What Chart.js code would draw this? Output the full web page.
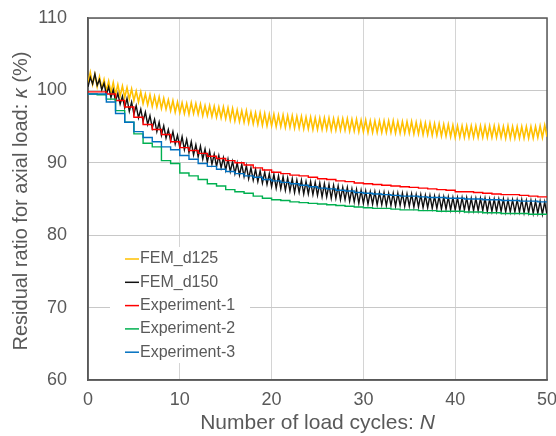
<!DOCTYPE html>
<html>
<head>
<meta charset="utf-8">
<script src="https://cdn.jsdelivr.net/npm/chart.js@4.4.1/dist/chart.umd.min.js"></script>
<style>
  html, body { margin: 0; padding: 0; background: #fff; }
  #wrap { width: 556px; height: 436px; }
</style>
</head>
<body>
<div id="wrap"><canvas id="residualChart" width="556" height="436"></canvas></div>
<script>
// x ticks / y ticks
const xTicks = [0, 10, 20, 30, 40, 50];
const yTicks = [60, 70, 80, 90, 100, 110];

const seriesNames = ['FEM_d125', 'FEM_d150', 'Experiment-1', 'Experiment-2', 'Experiment-3'];
const seriesColors = ['#FFC000', '#111111', '#FF0000', '#00B050', '#0070C0'];

// FEM results, one value every quarter cycle (N = 0, 0.25, 0.5 ...)
const femStep = 0.25;
const femD125 = [
  101.0, 102.5, 100.8, 102.2,  100.5, 101.9, 100.2, 101.5,  99.9, 101.3, 99.7, 101.1,
  99.4, 100.8, 99.2, 100.6,  99.0, 100.4, 98.8, 100.2,  98.6, 99.9, 98.4, 99.8,
  98.2, 99.5, 98.0, 99.4,  97.8, 99.2, 97.7, 99.1,  97.5, 98.9, 97.4, 98.7,
  97.2, 98.6, 97.0, 98.4,  96.9, 98.3, 96.8, 98.2,  96.7, 98.3, 96.8, 98.2,
  96.7, 98.1, 96.5, 97.9,  96.5, 97.9, 96.4, 97.8,  96.3, 97.7, 96.2, 97.7,
  96.1, 97.6, 95.9, 97.5,  95.8, 97.3, 95.7, 97.2,  95.6, 97.2, 95.5, 97.0,
  95.4, 96.9, 95.3, 96.9,  95.2, 96.8, 95.1, 96.7,  95.1, 96.7, 95.0, 96.6,
  95.0, 96.6, 94.9, 96.5,  94.9, 96.5, 94.8, 96.4,  94.8, 96.4, 94.7, 96.3,
  94.7, 96.3, 94.6, 96.2,  94.6, 96.2, 94.6, 96.2,  94.6, 96.2, 94.5, 96.1,
  94.5, 96.1, 94.5, 96.1,  94.5, 96.1, 94.4, 96.0,  94.4, 96.0, 94.3, 95.9,
  94.3, 95.9, 94.2, 95.8,  94.2, 95.8, 94.2, 95.8,  94.2, 95.8, 94.2, 95.8,
  94.2, 95.8, 94.1, 95.7,  94.1, 95.7, 94.1, 95.7,  94.1, 95.7, 94.0, 95.6,
  94.0, 95.6, 93.9, 95.5,  93.9, 95.5, 93.8, 95.4,  93.8, 95.4, 93.7, 95.3,
  93.7, 95.3, 93.6, 95.2,  93.5, 95.1, 93.5, 95.1,  93.5, 95.1, 93.5, 95.1,
  93.5, 95.1, 93.5, 95.1,  93.5, 95.1, 93.5, 95.1,  93.5, 95.1, 93.5, 95.1,
  93.5, 95.0, 93.4, 95.1,  93.4, 95.0, 93.4, 95.0,  93.4, 95.0, 93.4, 95.0,
  93.4, 95.0, 93.4, 95.0,  93.5, 95.1, 93.5, 95.2,  93.6
];
const femD150 = [
  100.5, 101.8, 100.9, 102.3,  100.7, 101.5, 100.1, 101.0,  99.4, 100.5, 99.0, 100.1,
  98.5, 99.6, 98.1, 99.2,  97.6, 98.9, 97.1, 98.4,  96.7, 97.9, 96.2, 97.4,
  95.7, 97.0, 95.3, 96.5,  94.8, 96.0, 94.3, 95.6,  93.8, 95.1, 93.4, 94.6,
  93.0, 94.3, 92.6, 93.8,  92.1, 93.6, 91.8, 93.2,  91.4, 92.9, 91.1, 92.5,
  90.8, 92.3, 90.5, 91.9,  90.1, 91.6, 89.8, 91.2,  89.5, 91.0, 89.3, 90.7,
  89.0, 90.5, 88.8, 90.2,  88.5, 90.0, 88.3, 89.8,  88.1, 89.6, 87.8, 89.3,
  87.6, 89.1, 87.4, 88.9,  87.2, 88.7, 87.0, 88.5,  86.7, 88.4, 86.5, 88.2,
  86.4, 88.1, 86.2, 87.9,  86.1, 87.8, 85.9, 87.6,  85.9, 87.6, 85.7, 87.4,
  85.7, 87.4, 85.6, 87.3,  85.5, 87.2, 85.3, 87.1,  85.3, 87.0, 85.1, 86.9,
  85.1, 86.8, 84.9, 86.6,  84.9, 86.6, 84.7, 86.4,  84.6, 86.3, 84.4, 86.2,
  84.4, 86.1, 84.3, 86.0,  84.3, 86.0, 84.2, 85.9,  84.2, 85.9, 84.1, 85.8,
  84.1, 85.8, 84.0, 85.8,  84.1, 85.8, 84.0, 85.7,  84.0, 85.7, 83.9, 85.6,
  83.9, 85.6, 83.8, 85.5,  83.8, 85.5, 83.7, 85.4,  83.7, 85.4, 83.6, 85.3,
  83.6, 85.3, 83.5, 85.2,  83.5, 85.2, 83.4, 85.2,  83.5, 85.2, 83.4, 85.1,
  83.4, 85.1, 83.4, 85.1,  83.4, 85.1, 83.3, 85.0,  83.3, 85.0, 83.3, 85.0,
  83.3, 85.0, 83.2, 84.9,  83.2, 84.9, 83.2, 84.9,  83.2, 84.9, 83.1, 84.8,
  83.1, 84.8, 83.0, 84.7,  83.0, 84.7, 82.9, 84.6,  82.8
];

// Experiments, one value per load cycle N = 0 ... 50
const experiment1 = [
  99.8, 99.8, 99.5, 98.6, 97.7, 96.3, 95.3, 94.6, 93.9, 92.9,
  92.1, 91.7, 91.3, 90.9, 90.6, 90.3, 90.0, 89.7, 89.3, 89.0,
  88.7, 88.5, 88.3, 88.2, 88.0, 87.8, 87.7, 87.5, 87.4, 87.2,
  87.1, 87.0, 86.9, 86.8, 86.7, 86.6, 86.5, 86.4, 86.3, 86.2,
  86.0, 86.0, 85.9, 85.8, 85.7, 85.6, 85.6, 85.5, 85.4, 85.3, 85.2
];
const experiment2 = [
  99.5, 99.4, 98.8, 97.2, 95.6, 94.0, 92.7, 92.2, 90.3, 89.9,
  88.6, 88.2, 87.7, 87.1, 86.8, 86.3, 86.0, 85.8, 85.4, 85.1,
  84.9, 84.8, 84.6, 84.5, 84.4, 84.3, 84.2, 84.1, 84.0, 83.9,
  83.8, 83.7, 83.7, 83.6, 83.5, 83.5, 83.4, 83.4, 83.3, 83.3,
  83.3, 83.2, 83.2, 83.1, 83.1, 83.0, 83.0, 83.0, 82.9, 82.9, 82.8
];
const experiment3 = [
  99.5, 99.5, 98.4, 96.8, 95.6, 94.3, 93.5, 92.9, 92.2, 91.8,
  91.0, 90.5, 89.9, 89.5, 89.1, 88.8, 88.5, 88.2, 88.0, 87.7,
  87.5, 87.3, 87.1, 86.9, 86.7, 86.5, 86.4, 86.2, 86.1, 85.9,
  85.8, 85.7, 85.6, 85.5, 85.4, 85.4, 85.3, 85.2, 85.2, 85.1,
  85.1, 85.0, 85.0, 84.9, 84.9, 84.8, 84.8, 84.7, 84.7, 84.6, 84.6
];

const FONT = '"Liberation Sans", Arial, sans-serif';
const TEXT = '#595959';

const femPoints = arr => arr.map((v, i) => ({ x: i * femStep, y: v }));
const cyclePoints = arr => arr.map((v, i) => ({ x: i, y: v }));

// draw a string made of plain / italic pieces
function drawRich(ctx, parts, size, align) {
  let total = 0;
  parts.forEach(p => {
    ctx.font = (p.it ? 'italic ' : '') + size + 'px ' + FONT;
    p.w = ctx.measureText(p.t).width;
    total += p.w;
  });
  let x = align === 'center' ? -total / 2 : 0;
  parts.forEach(p => {
    ctx.font = (p.it ? 'italic ' : '') + size + 'px ' + FONT;
    ctx.fillText(p.t, x, 0);
    x += p.w;
  });
}

const decorations = {
  id: 'decorations',
  beforeDatasetsDraw(chart) {
    const { ctx, chartArea: a } = chart;
    ctx.save();
    ctx.strokeStyle = '#595959';
    ctx.lineWidth = 1.5;
    ctx.strokeRect(a.left, a.top, a.right - a.left, a.bottom - a.top);
    ctx.restore();
  },
  afterDatasetsDraw(chart) {
    const { ctx, chartArea: a } = chart;
    ctx.save();
    // legend inside the plot
    ctx.fillStyle = '#fff';
    ctx.fillRect(110, 247, 140, 116);
    ctx.textBaseline = 'middle';
    ctx.font = '16px ' + FONT;
    chart.data.datasets.forEach((ds, i) => {
      const y = 259 + i * 23.3;
      ctx.strokeStyle = ds.borderColor;
      ctx.lineWidth = 1.5;
      ctx.beginPath();
      ctx.moveTo(125, y);
      ctx.lineTo(139, y);
      ctx.stroke();
      ctx.fillStyle = TEXT;
      ctx.fillText(ds.label, 140, y);
    });

    // axis titles
    ctx.fillStyle = TEXT;
    ctx.textBaseline = 'middle';
    ctx.save();
    ctx.translate((a.left + a.right) / 2, 423);
    drawRich(ctx, [{ t: 'Number of load cycles: ' }, { t: 'N', it: true }], 21, 'center');
    ctx.restore();
    ctx.save();
    ctx.translate(21, 201);
    ctx.rotate(-Math.PI / 2);
    drawRich(ctx, [{ t: 'Residual ratio for axial load: ' }, { t: 'κ', it: true }, { t: ' (%)' }], 20, 'center');
    ctx.restore();
    ctx.restore();
  }
};

const series = [femD125, femD150, experiment1, experiment2, experiment3];

const chart = new Chart(document.getElementById('residualChart'), {
  type: 'line',
  data: {
    datasets: series.map((arr, i) => ({
      label: seriesNames[i],
      data: i < 2 ? femPoints(arr) : cyclePoints(arr),
      borderColor: seriesColors[i],
      backgroundColor: seriesColors[i],
      borderWidth: i === 0 ? 1.6 : 1.4,
      pointRadius: 0,
      tension: 0,
      stepped: i < 2 ? false : 'before',
      order: 5 - i
    }))
  },
  options: {
    responsive: false,
    animation: false,
    devicePixelRatio: 1,
    layout: { padding: { top: 18, right: 9, left: 0, bottom: 0 } },
    plugins: { legend: { display: false }, tooltip: { enabled: false } },
    scales: {
      x: {
        type: 'linear',
        min: xTicks[0],
        max: xTicks[xTicks.length - 1],
        afterBuildTicks: s => { s.ticks = xTicks.map(v => ({ value: v })); },
        afterFit: s => { s.height = 56; s.paddingLeft = 0; s.paddingRight = 0; },
        grid: { color: '#d4d4d4', lineWidth: 1, drawTicks: false },
        border: { color: '#595959', width: 1.5 },
        ticks: { color: TEXT, font: { family: FONT, size: 18 }, padding: 9 }
      },
      y: {
        type: 'linear',
        min: yTicks[0],
        max: yTicks[yTicks.length - 1],
        afterBuildTicks: s => { s.ticks = yTicks.map(v => ({ value: v })); },
        afterFit: s => { s.width = 88; s.paddingTop = 0; s.paddingBottom = 0; },
        grid: { color: '#c8c8c8', lineWidth: 1, drawTicks: false },
        border: { color: '#595959', width: 1.5 },
        ticks: { color: TEXT, font: { family: FONT, size: 18 }, padding: 21 }
      }
    }
  },
  plugins: [decorations]
});
</script>
</body>
</html>
